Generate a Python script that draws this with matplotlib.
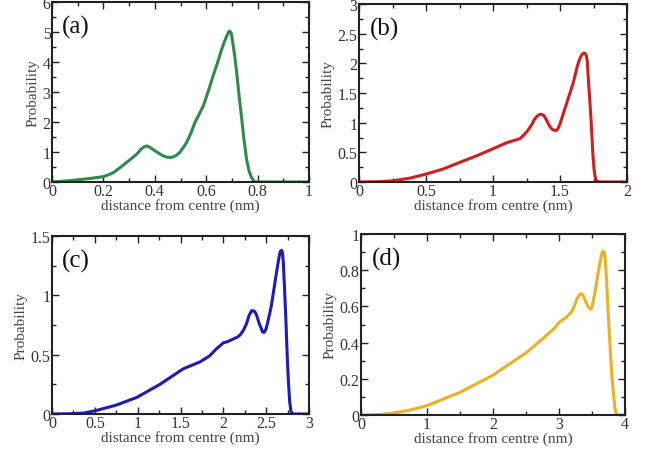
import matplotlib
matplotlib.use("Agg")
import matplotlib.pyplot as plt
from matplotlib.ticker import MultipleLocator, FuncFormatter

plt.rcParams['font.family'] = ['Liberation Serif', 'DejaVu Serif']

# ---- data ----
xa = [0, 0.05, 0.097, 0.15, 0.2, 0.22, 0.24, 0.265, 0.29, 0.31, 0.33, 0.345, 0.358, 0.368, 0.375,
      0.39, 0.41, 0.43, 0.446, 0.456, 0.466, 0.482, 0.498, 0.51, 0.524, 0.54, 0.556, 0.572, 0.589,
      0.608, 0.627, 0.645, 0.66, 0.672, 0.68, 0.686, 0.69, 0.695, 0.699, 0.705, 0.711, 0.718, 0.727,
      0.737, 0.747, 0.757, 0.767, 0.776, 0.783, 0.789, 0.8, 0.83, 1.0]
ya = [0, 0.03, 0.07, 0.12, 0.18, 0.24, 0.32, 0.48, 0.65, 0.79, 0.93, 1.08, 1.17, 1.2, 1.19,
      1.1, 0.99, 0.88, 0.83, 0.82, 0.82, 0.88, 0.99, 1.14, 1.32, 1.62, 1.98, 2.25, 2.54,
      3.02, 3.54, 4.0, 4.42, 4.7, 4.87, 4.98, 5.03, 5.0, 4.9, 4.55, 4.2, 3.7, 2.95,
      2.2, 1.42, 0.76, 0.36, 0.155, 0.06, 0.01, 0, 0, 0]

xb = [0, 0.15, 0.254, 0.38, 0.502, 0.63, 0.751, 0.876, 1.0, 1.1, 1.2, 1.23, 1.26, 1.29, 1.31,
      1.33, 1.35, 1.365, 1.38, 1.40, 1.42, 1.44, 1.46, 1.475, 1.485, 1.50, 1.52, 1.54, 1.56,
      1.6, 1.63, 1.65, 1.665, 1.675, 1.685, 1.695, 1.703, 1.71, 1.72, 1.73, 1.738, 1.746, 1.755,
      1.763, 1.77, 1.78, 1.8, 2.0]
yb = [0, 0.005, 0.02, 0.065, 0.135, 0.22, 0.33, 0.44, 0.56, 0.66, 0.73, 0.79, 0.87, 0.97, 1.06,
      1.11, 1.14, 1.14, 1.12, 1.04, 0.95, 0.89, 0.87, 0.87, 0.9, 0.98, 1.12, 1.26, 1.4,
      1.68, 1.96, 2.09, 2.15, 2.17, 2.17, 2.14, 2.05, 1.79, 1.45, 1.12, 0.78, 0.44, 0.2,
      0.08, 0.03, 0.005, 0, 0]

xc = [0, 0.2, 0.37, 0.52, 0.75, 0.99, 1.26, 1.53, 1.73, 1.84, 1.92, 1.97, 2.0, 2.05, 2.11,
      2.17, 2.2, 2.23, 2.27, 2.30, 2.33, 2.35, 2.37, 2.39, 2.42, 2.46, 2.48, 2.5, 2.53,
      2.56, 2.59, 2.62, 2.65, 2.665, 2.68, 2.69, 2.70, 2.715, 2.73, 2.74, 2.75, 2.76, 2.775,
      2.79, 2.81, 3.0]
yc = [0, 0.002, 0.008, 0.03, 0.075, 0.14, 0.25, 0.38, 0.44, 0.49, 0.55, 0.58, 0.6, 0.61, 0.63,
      0.65, 0.67, 0.70, 0.76, 0.83, 0.87, 0.87, 0.86, 0.83, 0.76, 0.69, 0.69, 0.72, 0.81,
      0.91, 1.05, 1.19, 1.32, 1.37, 1.38, 1.36, 1.28, 1.05, 0.8, 0.6, 0.42, 0.27, 0.1,
      0.02, 0, 0]

xd = [0, 0.25, 0.49, 0.75, 1.0, 1.5, 2.0, 2.51, 2.81, 2.92, 3.0, 3.05, 3.11, 3.19, 3.23,
      3.27, 3.31, 3.34, 3.37, 3.40, 3.44, 3.47, 3.49, 3.52, 3.56, 3.6, 3.63, 3.655, 3.67,
      3.685, 3.7, 3.72, 3.75, 3.78, 3.80, 3.83, 3.85, 3.87, 3.89, 4.0]
yd = [0, 0.002, 0.01, 0.028, 0.052, 0.125, 0.22, 0.346, 0.44, 0.475, 0.51, 0.525, 0.54, 0.57, 0.6,
      0.64, 0.665, 0.67, 0.66, 0.63, 0.6, 0.585, 0.585, 0.63, 0.71, 0.8, 0.86, 0.9, 0.905,
      0.9, 0.86, 0.75, 0.53, 0.34, 0.22, 0.1, 0.03, 0.008, 0, 0]

labels = ['(a)', '(b)', '(c)', '(d)']
xlabel = 'distance from centre (nm)'
ylabel = 'Probability'

W, H = 649, 452
fig = plt.figure(figsize=(W / 100, H / 100), dpi=100)

def px_axes(l, r, t, b):
    return fig.add_axes([l / W, (H - b) / H, (r - l) / W, (b - t) / H])

panels = [
    dict(box=(52, 309, 3, 183), x=xa, y=ya, c='#2e8b4a', xlim=(0, 1), ylim=(0, 6),
         xmaj=0.2, xmin=0.1, ymaj=1, ymin=0.5),
    dict(box=(359, 627, 5, 183), x=xb, y=yb, c='#d01f1f', xlim=(0, 2), ylim=(0, 3),
         xmaj=0.5, xmin=0.25, ymaj=0.5, ymin=0.25),
    dict(box=(52, 309, 237, 415), x=xc, y=yc, c='#1c1cb8', xlim=(0, 3), ylim=(0, 1.5),
         xmaj=0.5, xmin=0.25, ymaj=0.5, ymin=0.25),
    dict(box=(361, 625, 235, 416), x=xd, y=yd, c='#eeb023', xlim=(0, 4), ylim=(0, 1.0),
         xmaj=1, xmin=0.5, ymaj=0.2, ymin=0.1),
]

def fmt(v, pos):
    return ('%.2f' % v).rstrip('0').rstrip('.')

for lab, p in zip(labels, panels):
    ax = px_axes(*p['box'])
    ax.plot(p['x'], p['y'], color=p['c'], lw=2.2, solid_joinstyle='round',
            solid_capstyle='round')
    ax.set_xlim(*p['xlim'])
    ax.set_ylim(*p['ylim'])
    ax.xaxis.set_major_locator(MultipleLocator(p['xmaj']))
    ax.xaxis.set_minor_locator(MultipleLocator(p['xmin']))
    ax.yaxis.set_major_locator(MultipleLocator(p['ymaj']))
    ax.yaxis.set_minor_locator(MultipleLocator(p['ymin']))
    ax.xaxis.set_major_formatter(FuncFormatter(fmt))
    ax.yaxis.set_major_formatter(FuncFormatter(fmt))
    ax.tick_params(which='both', direction='in', top=True, right=True,
                   labelsize=11.5, pad=1, color='#222222', labelcolor='#333333')
    ax.tick_params(which='major', length=5, width=1)
    ax.tick_params(which='minor', length=3, width=1)
    for s in ax.spines.values():
        s.set_linewidth(1.5)
        s.set_color('#222222')
    ax.set_xlabel(xlabel, fontsize=11, labelpad=-1, color='#444444')
    ax.set_ylabel(ylabel, fontsize=11, labelpad=2, color='#444444')
    ax.text(0.04, 0.865, lab, transform=ax.transAxes, fontsize=18,
            va='center', ha='left', color='#111111')

fig.savefig('out.png', dpi=100)
